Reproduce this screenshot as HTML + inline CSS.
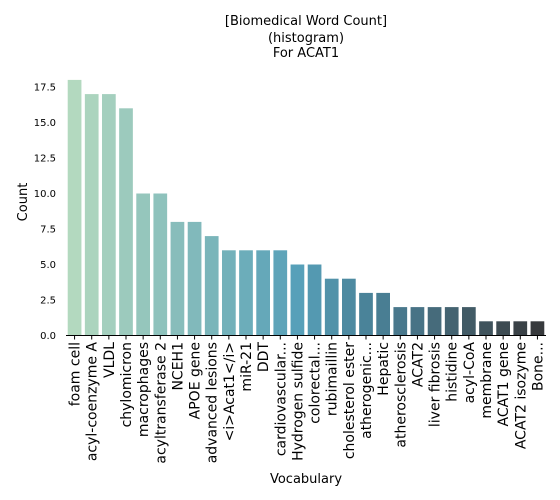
<!DOCTYPE html>
<html><head><meta charset="utf-8"><style>
html,body{margin:0;padding:0;background:#fff;}
svg{display:block;font-family:"DejaVu Sans","Liberation Sans",sans-serif;}
</style></head><body>
<svg id="chart" width="560" height="500">
<g font-size="13" text-anchor="middle" fill="#000">
<text x="306" y="25">[Biomedical Word Count]</text>
<text x="306" y="42">(histogram)</text>
<text x="306" y="57"> For ACAT1</text>
</g>
<text x="27" y="202" font-size="13" text-anchor="middle" transform="rotate(-90 27 202)">Count</text>
<text x="306" y="483" font-size="13" text-anchor="middle">Vocabulary</text>
<g id="bars"></g><g id="yticks"></g><g id="xticks"></g>
<line x1="66" y1="335.5" x2="546" y2="335.5" stroke="#000" stroke-width="1"/>
</svg>
<script>
const categories=["foam cell","acyl-coenzyme A","VLDL","chylomicron","macrophages","acyltransferase 2","NCEH1","APOE gene","advanced lesions","<i>Acat1</i>","miR-21","DDT","cardiovascular...","Hydrogen sulfide","colorectal...","rubimaillin","cholesterol ester","atherogenic...","Hepatic","atherosclerosis","ACAT2","liver fibrosis","histidine","acyl-CoA","membrane","ACAT1 gene","ACAT2 isozyme","Bone..."];
const counts=[18,17,17,16,10,10,8,8,7,6,6,6,6,5,5,4,4,3,3,2,2,2,2,2,1,1,1,1];
const yTickValues=[0,2.5,5,7.5,10,12.5,15,17.5];
const yTickLabels=["0.0","2.5","5.0","7.5","10.0","12.5","15.0","17.5"];
const NS="http://www.w3.org/2000/svg";
const x0=66,x1=546,yBase=335.5,pxPerUnit=248.5/17.5;
const band=(x1-x0)/categories.length;
const yScale=v=>yBase-v*pxPerUnit;
const xCenter=i=>x0+band*(i+0.5);
const stops=[[0,[179,217,191]],[3,[156,202,189]],[8,[122,181,186]],[13,[87,160,185]],[17,[74,131,153]],[20,[72,115,134]],[23,[66,91,102]],[27,[55,58,61]]];
function color(i){const t=i*27/(categories.length-1);for(let k=0;k<stops.length-1;k++){const a=stops[k],b=stops[k+1];if(t>=a[0]&&t<=b[0]){const f=(t-a[0])/(b[0]-a[0]);return "rgb("+a[1].map((c,j)=>Math.round(c+(b[1][j]-c)*f)).join(",")+")";}}return "rgb(55,58,61)";}
const bars=document.getElementById('bars'),xt=document.getElementById('xticks'),yt=document.getElementById('yticks');
counts.forEach((v,i)=>{
const r=document.createElementNS(NS,'rect');


const w=band*0.8;
r.setAttribute('x',xCenter(i)-w/2);r.setAttribute('width',w);
r.setAttribute('y',yScale(v));r.setAttribute('height',v*pxPerUnit);
r.setAttribute('fill',color(i));bars.appendChild(r);
const tk=document.createElementNS(NS,'line');


tk.setAttribute('x1',xCenter(i));tk.setAttribute('x2',xCenter(i));tk.setAttribute('y1',yBase);tk.setAttribute('y2',yBase+4);tk.setAttribute('stroke','#000');xt.appendChild(tk);
const t=document.createElementNS(NS,'text');


const cx=xCenter(i)+5,cy=342;
t.setAttribute('x',cx);t.setAttribute('y',cy);t.setAttribute('font-size','14');t.setAttribute('text-anchor','end');
t.setAttribute('transform','rotate(-90 '+cx+' '+cy+')');t.textContent=categories[i];xt.appendChild(t);
});
yTickValues.forEach((v,i)=>{
const t=document.createElementNS(NS,'text');


t.setAttribute('x',56);t.setAttribute('y',yScale(v)+3.5);t.setAttribute('font-size','10');t.setAttribute('text-anchor','end');
t.textContent=yTickLabels[i];yt.appendChild(t);
});
</script>
</body></html>
